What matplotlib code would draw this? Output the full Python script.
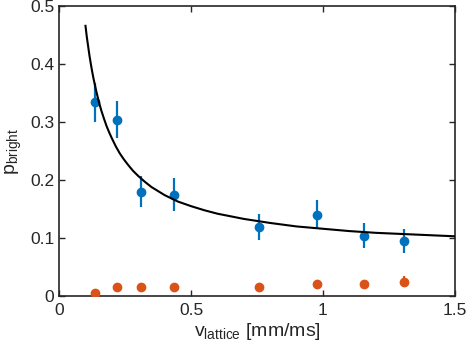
import matplotlib
matplotlib.use("Agg")
import matplotlib.pyplot as plt

plt.rcParams['font.family'] = ['Liberation Sans', 'DejaVu Sans']
plt.rcParams['mathtext.fontset'] = 'custom'
plt.rcParams['mathtext.rm'] = 'Liberation Sans'
plt.rcParams['mathtext.it'] = 'Liberation Sans'

v_lattice = [0.136, 0.22, 0.31, 0.435, 0.757, 0.977, 1.155, 1.307]
p_bright_blue = [0.334, 0.304, 0.180, 0.175, 0.119, 0.140, 0.104, 0.095]
err_blue = [0.033, 0.032, 0.027, 0.028, 0.023, 0.025, 0.022, 0.020]
p_bright_orange = [0.005, 0.015, 0.015, 0.015, 0.015, 0.020, 0.020, 0.025]
err_orange = [0.004, 0.005, 0.005, 0.005, 0.005, 0.008, 0.008, 0.010]

curve_x = [0.100, 0.105, 0.110, 0.115, 0.120, 0.125, 0.130, 0.140, 0.150, 0.160,
           0.170, 0.180, 0.190, 0.200, 0.215, 0.230, 0.245, 0.260, 0.280, 0.300,
           0.325, 0.350, 0.375, 0.400, 0.450, 0.500, 0.550, 0.600, 0.700, 0.800,
           0.900, 1.000, 1.100, 1.200, 1.350, 1.500]
curve_y = [0.466, 0.447, 0.431, 0.415, 0.401, 0.388, 0.376, 0.355, 0.336, 0.320,
           0.306, 0.293, 0.282, 0.272, 0.258, 0.246, 0.236, 0.227, 0.216, 0.207,
           0.197, 0.188, 0.181, 0.174, 0.163, 0.155, 0.148, 0.142, 0.133, 0.126,
           0.120, 0.116, 0.112, 0.109, 0.106, 0.103]

xticks = [0, 0.5, 1, 1.5]
xticklabels = ['0', '0.5', '1', '1.5']
yticks = [0, 0.1, 0.2, 0.3, 0.4, 0.5]
yticklabels = ['0', '0.1', '0.2', '0.3', '0.4', '0.5']

blue = '#0072BD'
orange = '#D95319'
axcol = '#262626'

fig = plt.figure(figsize=(4.69, 3.61), dpi=100)
ax = fig.add_axes([0.126, 0.180, 0.844, 0.803])

ax.errorbar(v_lattice, p_bright_blue, yerr=err_blue, fmt='o', color=blue,
            markersize=6, elinewidth=1.6, capsize=0, zorder=3)
ax.errorbar(v_lattice, p_bright_orange, yerr=err_orange, fmt='o', color=orange,
            markersize=6, elinewidth=1.6, capsize=0, zorder=3)
ax.plot(curve_x, curve_y, color='black', linewidth=1.5, zorder=4)

ax.set_xlim(0, 1.5)
ax.set_ylim(0, 0.5)
ax.set_xticks(xticks)
ax.set_xticklabels(xticklabels)
ax.set_yticks(yticks)
ax.set_yticklabels(yticklabels)
ax.tick_params(direction='in', top=True, right=True, length=4, width=1,
               colors=axcol, labelsize=12.5, labelcolor=axcol)
ax.tick_params(axis='x', pad=5)
for s in ax.spines.values():
    s.set_color(axcol)
    s.set_linewidth(1.2)

ax.set_xlabel(r'v$_{\mathrm{lattice}}$ [mm/ms]', fontsize=14, color=axcol, labelpad=2)
ax.set_ylabel(r'p$_{\mathrm{bright}}$', fontsize=14, color=axcol, labelpad=4)

fig.savefig('out.png', dpi=100)
